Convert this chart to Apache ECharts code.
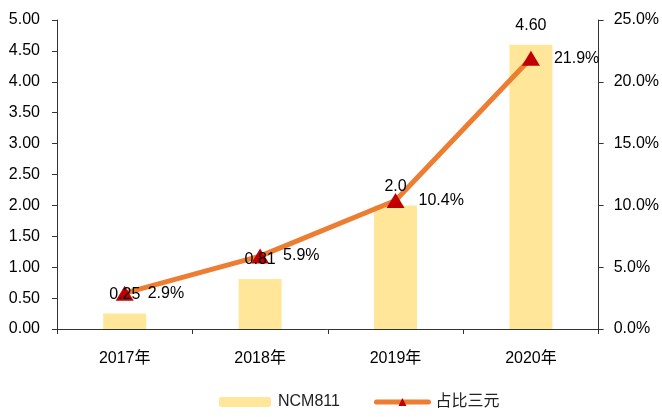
<!DOCTYPE html>
<html lang="zh">
<head>
    <meta charset="UTF-8">
    <title>NCM811</title>
    <script type="text/javascript" src="https://cdn.jsdelivr.net/npm/echarts@6/dist/echarts.min.js"></script>
    <style>
        html, body { margin: 0; padding: 0; background: #fff; }
        #chart { width: 662px; height: 417px; }
    </style>
</head>
<body>
<div id="chart"></div>
<script type="text/javascript">
    // 数据
    var years = ['2017年', '2018年', '2019年', '2020年'];
    var ncm811 = [0.25, 0.81, 2.0, 4.60];
    var ncmLabels = ['0.25', '0.81', '2.0', '4.60'];
    var share = [2.9, 5.9, 10.4, 21.9];

    var font = '"Liberation Sans", Arial, "Noto Sans CJK SC", sans-serif';
    var chart = echarts.init(document.getElementById('chart'));
    var option = {
        animation: false,
        textStyle: { fontFamily: font, color: '#000' },
        grid: { left: 57, right: 60, top: 20, bottom: 88 },
        legend: {
            bottom: 2,
            left: 214,
            itemWidth: 52,
            itemHeight: 10,
            itemGap: 34,
            textStyle: { fontSize: 16, color: '#222', fontFamily: font, padding: [0, 0, 0, 2] },
            data: [
                { name: 'NCM811' },
                { name: '占比三元', lineStyle: { width: 5, cap: 'round' } }
            ]
        },
        xAxis: {
            type: 'category',
            data: years,
            axisLine: { lineStyle: { color: '#333', width: 1 } },
            axisTick: { show: true, length: 5, lineStyle: { color: '#333' } },
            axisLabel: { fontSize: 16, color: '#000', margin: 22 }
        },
        yAxis: [
            {
                type: 'value',
                min: 0, max: 5, interval: 0.5,
                axisLine: { show: true, lineStyle: { color: '#333' } },
                axisTick: { show: true, length: 5, lineStyle: { color: '#333' } },
                splitLine: { show: false },
                axisLabel: {
                    fontSize: 16, color: '#000', margin: 17,
                    formatter: function (v) { return v.toFixed(2); }
                }
            },
            {
                type: 'value',
                min: 0, max: 25, interval: 5,
                position: 'right',
                axisLine: { show: true, lineStyle: { color: '#333' } },
                axisTick: { show: true, length: 5, lineStyle: { color: '#333' } },
                splitLine: { show: false },
                axisLabel: {
                    fontSize: 16, color: '#000', margin: 15,
                    formatter: function (v) { return v.toFixed(1) + '%'; }
                }
            }
        ],
        series: [
            {
                name: 'NCM811',
                type: 'bar',
                data: ncm811,
                barWidth: 43,
                itemStyle: { color: '#FFE699' },
                z: 2
            },
            {
                name: '占比三元',
                type: 'line',
                yAxisIndex: 1,
                data: share,
                symbol: 'triangle',
                symbolSize: [18, 15],
                showAllSymbol: true,
                lineStyle: { color: '#ED7D31', width: 5 },
                itemStyle: { color: '#C00000' },
                label: {
                    show: true,
                    position: 'right',
                    distance: 14,
                    fontSize: 16,
                    color: '#000',
                    formatter: function (p) { return p.value.toFixed(1) + '%'; }
                },
                z: 3
            },
            {
                // 柱顶数值标签，放在折线之上
                name: 'NCM811标签',
                type: 'bar',
                data: ncm811,
                barWidth: 43,
                barGap: '-100%',
                itemStyle: { color: 'rgba(0,0,0,0)' },
                label: {
                    show: true,
                    position: 'top',
                    distance: 11,
                    fontSize: 16,
                    color: '#000',
                    formatter: function (p) { return ncmLabels[p.dataIndex]; }
                },
                silent: true,
                z: 4
            }
        ]
    };
    chart.setOption(option);
</script>
</body>
</html>
